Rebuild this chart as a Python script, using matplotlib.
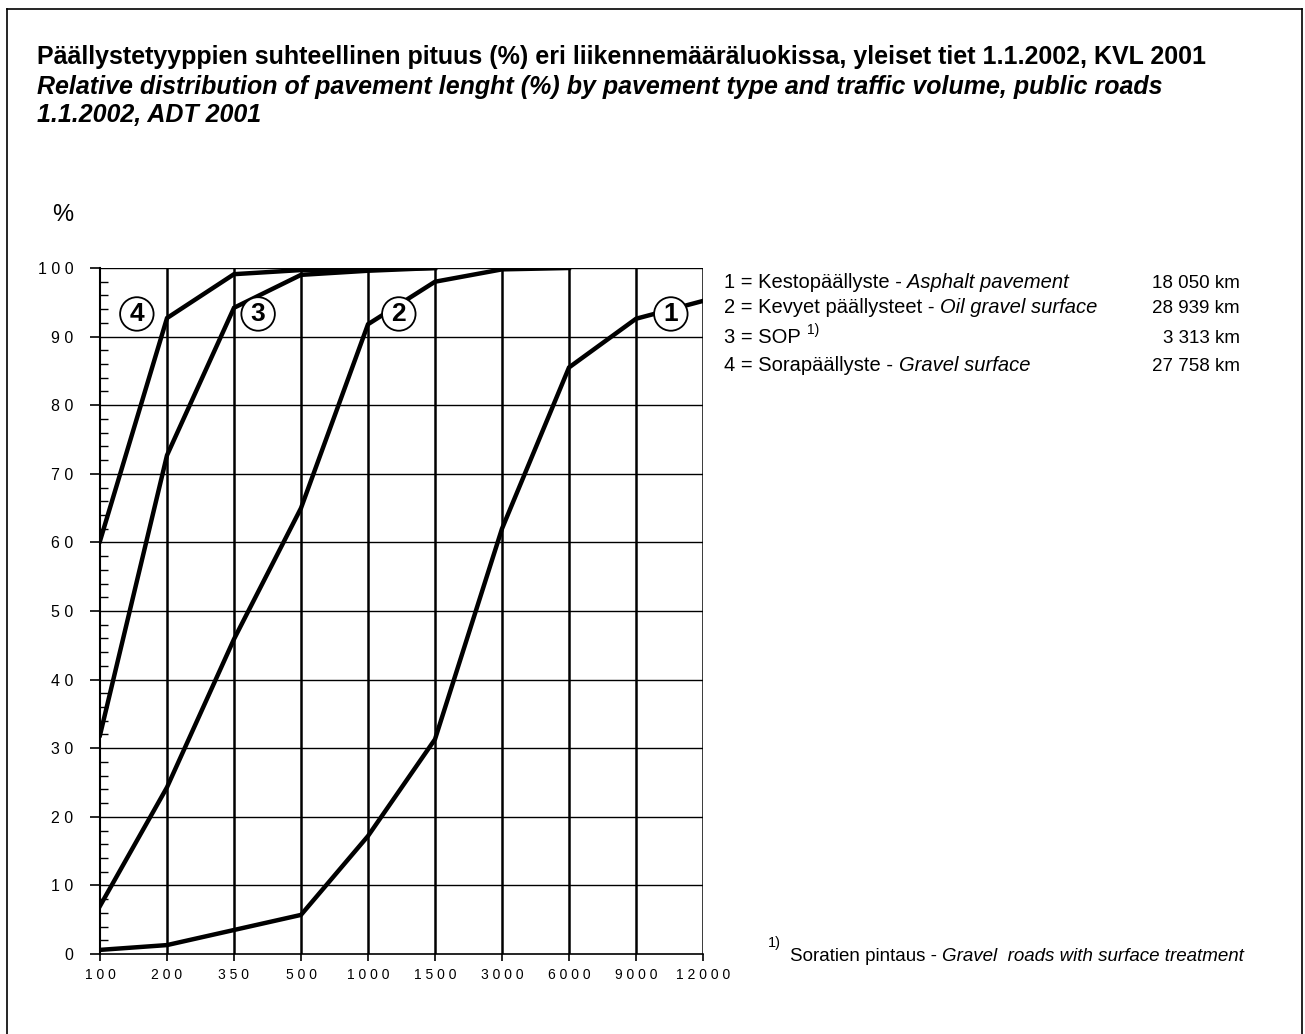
import matplotlib
matplotlib.use("Agg")
import matplotlib.pyplot as plt
from matplotlib.lines import Line2D

plt.rcParams['font.family'] = ['Liberation Sans', 'DejaVu Sans']

# traffic volume classes (ADT) and cumulative share of length (%)
classes = ['100', '200', '350', '500', '1000', '1500', '3000', '6000', '9000', '12000']
asphalt = [0.6, 1.3, 3.5, 5.7, 17.2, 31.3, 62.0, 85.5, 92.6, 95.2]
oil_gravel = [7.0, 24.3, 45.9, 65.0, 91.8, 98.0, 99.8, 100.0]
sop = [31.9, 72.7, 94.2, 99.0, 99.6, 100.0]
gravel = [60.2, 92.7, 99.1, 99.7, 99.8, 100.0]

series_tags = ['1', '2', '3', '4']
legend_rows = [
    ('1 = Kestopäällyste - ', 'Asphalt pavement', '18 050 km'),
    ('2 = Kevyet päällysteet - ', 'Oil gravel surface', '28 939 km'),
    ('3 = SOP', None, '3 313 km'),
    ('4 = Sorapäällyste - ', 'Gravel surface', '27 758 km'),
]

W, H = 1305, 1034
fig = plt.figure(figsize=(W / 100, H / 100), dpi=100)
ax = fig.add_axes([100 / W, 80 / H, 603 / W, 686 / H])

idx = list(range(len(classes)))
for vals in (asphalt, oil_gravel, sop, gravel):
    ax.plot(idx[:len(vals)], vals, color='black', lw=3.2, solid_joinstyle='miter', zorder=3)

ax.set_xlim(0, 9)
ax.set_ylim(0, 100)
ax.set_xticks(idx)
ax.set_xticklabels([' '.join(c) for c in classes], fontsize=10)
ax.set_yticks(range(0, 101, 10))
ax.set_yticklabels([' '.join(str(v)) for v in range(0, 101, 10)], fontsize=11.5)
ax.set_yticks(range(0, 101, 2), minor=True)
ax.tick_params(axis='y', which='major', direction='out', length=7, width=1.2, pad=12)
ax.tick_params(axis='y', which='minor', direction='in', length=6, width=1.0)
ax.tick_params(axis='x', which='major', direction='out', length=5, width=1.2, pad=5)
ax.tick_params(axis='x', which='minor', bottom=False)

for v in range(10, 101, 10):
    ax.axhline(v, color='black', lw=1.0, zorder=1)
for i in idx[1:]:
    ax.axvline(i, color='black', lw=1.8, zorder=1)
for side in ('top', 'right'):
    ax.spines[side].set_visible(False)
ax.spines['left'].set_linewidth(1.5)
ax.spines['bottom'].set_linewidth(1.2)

# circled series numbers
tag_pos = {'4': (0.55, 93.3), '3': (2.36, 93.3), '2': (4.46, 93.3), '1': (8.52, 93.3)}
for t in series_tags:
    x, y = tag_pos[t]
    ax.text(x, y, t, fontsize=19, fontweight='bold', ha='center', va='center',
            bbox=dict(boxstyle='circle,pad=0.18', fc='white', ec='black', lw=1.3), zorder=4)

# titles
fig.text(37 / W, 1 - 57 / H, 'Päällystetyyppien suhteellinen pituus (%) eri liikennemääräluokissa, yleiset tiet 1.1.2002, KVL 2001',
         fontsize=18, fontweight='bold', va='center', ha='left')
fig.text(37 / W, 1 - 87 / H, 'Relative distribution of pavement lenght (%) by pavement type and traffic volume, public roads',
         fontsize=18, fontweight='bold', style='italic', va='center', ha='left')
fig.text(37 / W, 1 - 115 / H, '1.1.2002, ADT 2001',
         fontsize=18, fontweight='bold', style='italic', va='center', ha='left')
fig.text(63 / W, 1 - 215 / H, '%', fontsize=17, ha='center', va='center')

# legend text
renderer = fig.canvas.get_renderer()
row_base = [288, 313, 343, 371]
for (plain, ital, km), yy in zip(legend_rows, row_base):
    y = 1 - yy / H
    t = fig.text(724 / W, y, plain, fontsize=14.5, va='baseline', ha='left')
    ext = t.get_window_extent(renderer)
    if ital:
        fig.text(ext.x1 / W, y, ital, fontsize=14.5, style='italic', va='baseline', ha='left')
    else:
        fig.text((ext.x1 + 6) / W, y + 9 / H, '1)', fontsize=10, va='baseline', ha='left')
    fig.text(1240 / W, y, km, fontsize=13.5, va='baseline', ha='right')

# footnote
fig.text(768 / W, 1 - 947 / H, '1)', fontsize=10.5, va='baseline', ha='left')
t = fig.text(790 / W, 1 - 961 / H, 'Soratien pintaus - ', fontsize=13.5, va='baseline', ha='left')
ext = t.get_window_extent(renderer)
fig.text(ext.x1 / W, 1 - 961 / H, 'Gravel  roads with surface treatment', fontsize=13.5,
         style='italic', va='baseline', ha='left')

# page frame
x0, x1, y1 = 7 / W, 1302 / W, 1 - 9 / H
for xs, ys in (([x0, x0], [-0.01, y1]), ([x0, x1], [y1, y1]), ([x1, x1], [y1, -0.01])):
    fig.add_artist(Line2D(xs, ys, transform=fig.transFigure, color='black', lw=1.2))

fig.savefig('out.png', dpi=100, facecolor='white')
